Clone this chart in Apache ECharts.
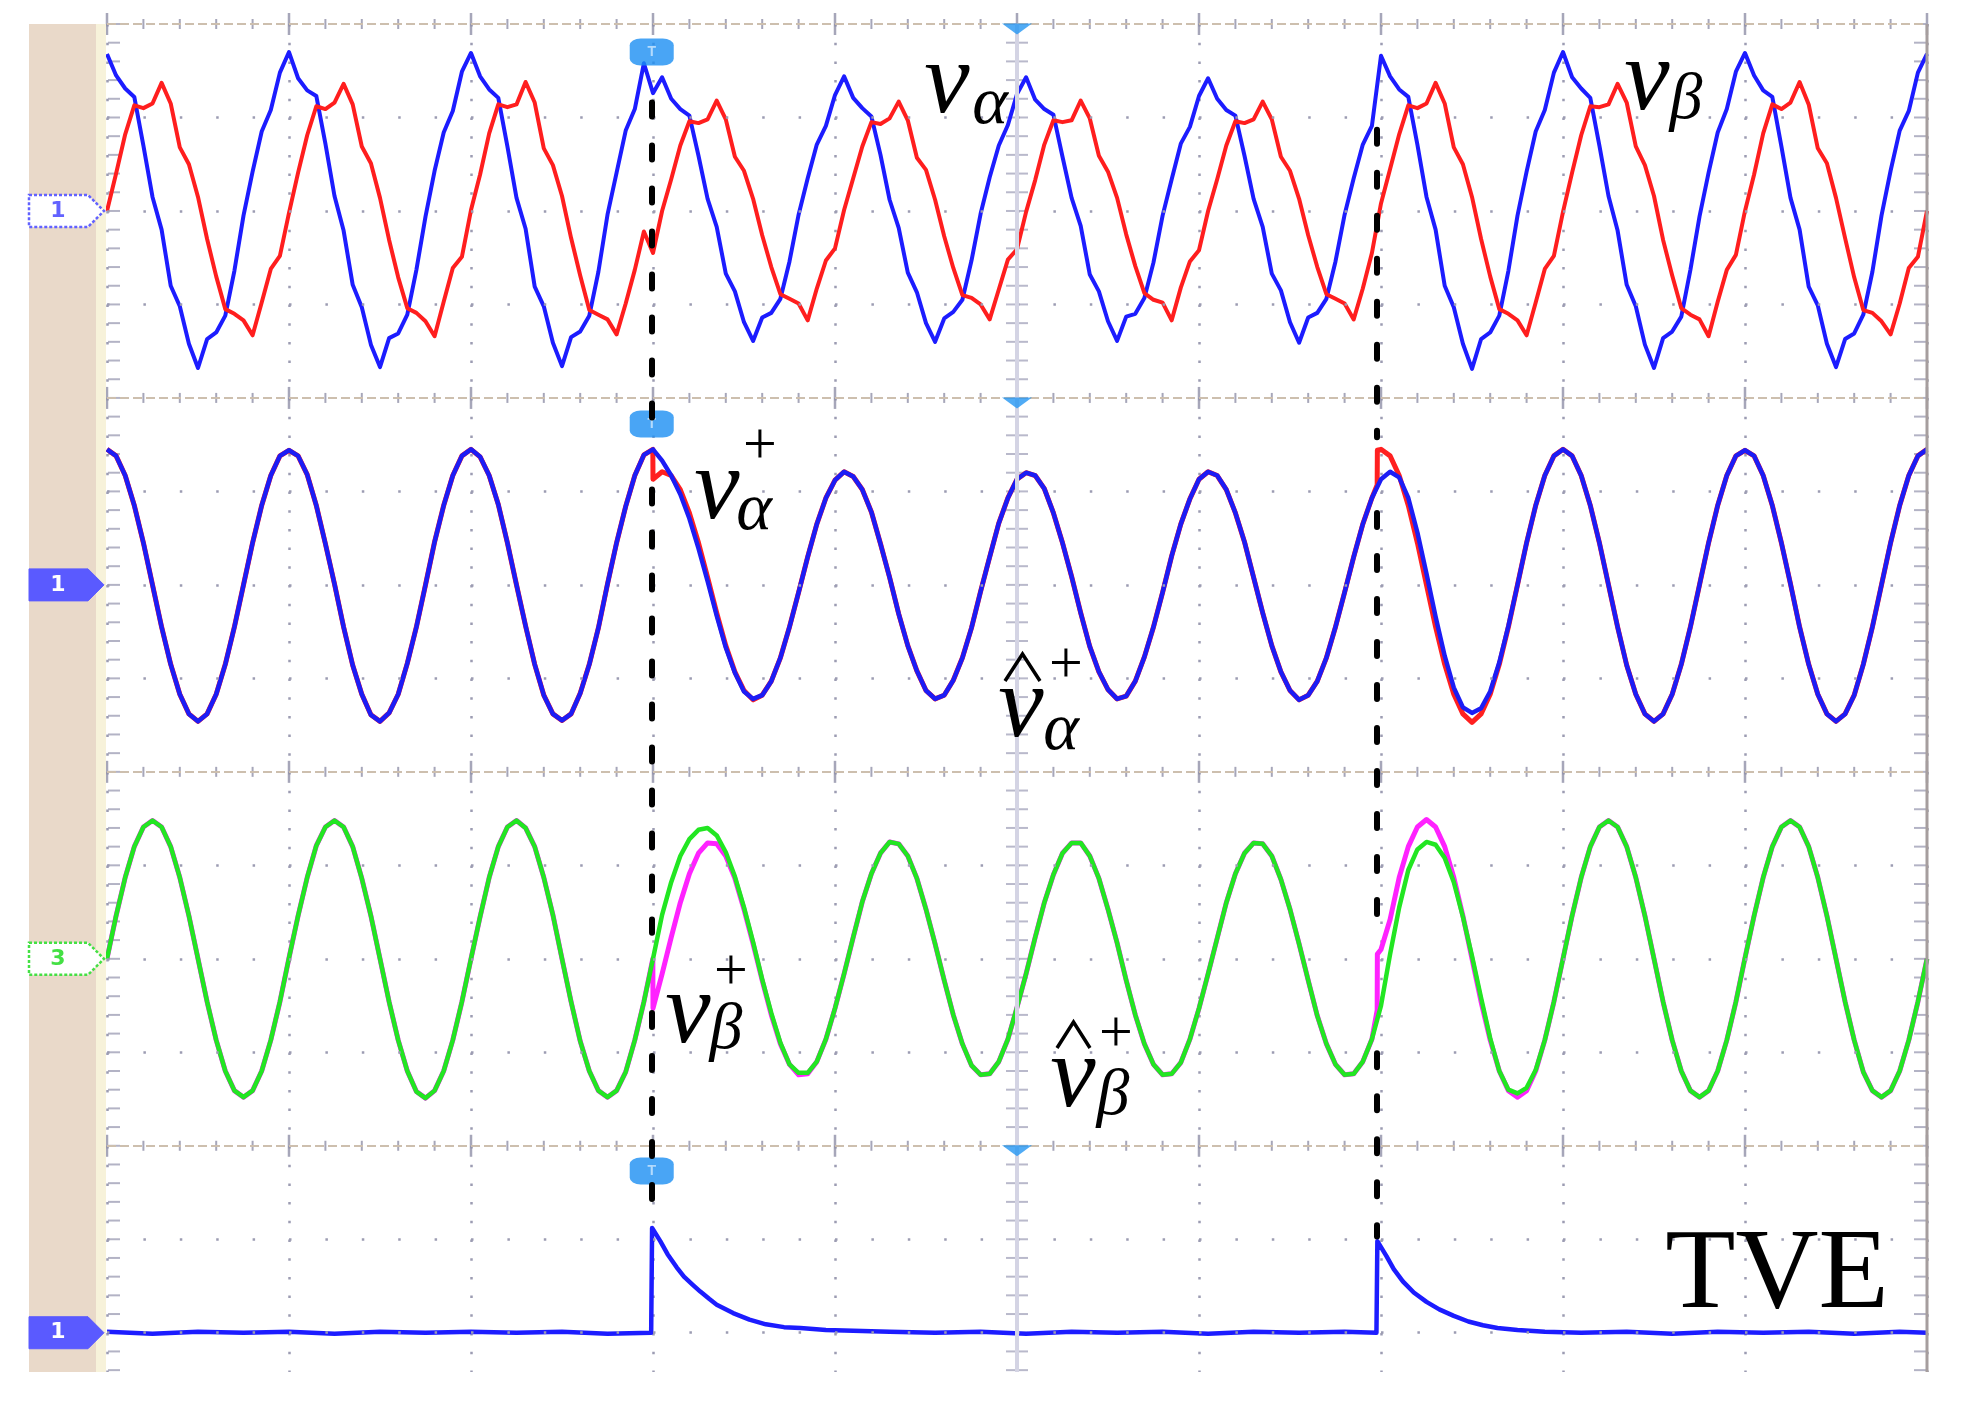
<!DOCTYPE html>
<html>
<head>
<meta charset="utf-8">
<script src="https://cdn.jsdelivr.net/npm/echarts@6/dist/echarts.min.js"></script>
<style>
html,body{margin:0;padding:0;background:#ffffff;}
#chart{width:1962px;height:1406px;}
</style>
</head>
<body>
<div id="chart"></div>
<script>
// ===== DATA (time in screen divisions, step 0.05 div; values in divisions about each channel zero) =====
const timeStep = 0.05;

// channel 1 (top): v_alpha (blue) and v_beta (red)
const vAlpha = [
1.68,1.45,1.31,1.22,0.70,0.15,-0.20,-0.80,-1.02,-1.42,-1.68,-1.37,-1.30,-1.12,-0.64,-0.05,0.42,0.85,1.08,1.48,
1.70,1.42,1.29,1.23,0.72,0.16,-0.21,-0.79,-1.03,-1.43,-1.67,-1.36,-1.31,-1.11,-0.63,-0.06,0.43,0.84,1.07,1.49,
1.69,1.44,1.30,1.21,0.69,0.14,-0.19,-0.81,-1.02,-1.41,-1.66,-1.35,-1.29,-1.12,-0.65,-0.04,0.41,0.86,1.09,1.58,
1.26,1.43,1.20,1.09,1.02,0.59,0.13,-0.17,-0.67,-0.86,-1.19,-1.39,-1.14,-1.09,-0.94,-0.54,-0.04,0.35,0.71,0.91,
1.24,1.44,1.21,1.10,1.01,0.60,0.12,-0.18,-0.66,-0.87,-1.20,-1.40,-1.15,-1.08,-0.95,-0.53,-0.03,0.36,0.70,0.92,
1.25,1.43,1.19,1.09,1.03,0.58,0.14,-0.16,-0.68,-0.86,-1.18,-1.39,-1.13,-1.10,-0.93,-0.55,-0.05,0.34,0.72,0.90,
1.23,1.42,1.20,1.08,1.02,0.59,0.13,-0.17,-0.67,-0.85,-1.19,-1.41,-1.14,-1.09,-0.94,-0.54,-0.04,0.35,0.71,0.91,
1.66,1.44,1.30,1.22,0.71,0.15,-0.20,-0.80,-1.03,-1.42,-1.69,-1.37,-1.30,-1.12,-0.64,-0.05,0.42,0.85,1.08,1.48,
1.70,1.43,1.31,1.21,0.70,0.16,-0.21,-0.79,-1.02,-1.43,-1.68,-1.36,-1.29,-1.13,-0.63,-0.06,0.41,0.84,1.09,1.49,
1.69,1.45,1.29,1.22,0.69,0.14,-0.20,-0.81,-1.01,-1.42,-1.67,-1.37,-1.31,-1.11,-0.65,-0.05,0.43,0.86,1.07,1.48,
1.68];
const vBeta = [
0.00,0.40,0.82,1.13,1.10,1.15,1.37,1.15,0.68,0.50,0.15,-0.30,-0.70,-1.05,-1.10,-1.17,-1.33,-0.98,-0.62,-0.48,
-0.02,0.41,0.81,1.12,1.09,1.16,1.36,1.14,0.69,0.51,0.14,-0.31,-0.71,-1.04,-1.09,-1.18,-1.34,-0.97,-0.61,-0.49,
0.01,0.39,0.83,1.14,1.11,1.14,1.38,1.16,0.67,0.49,0.16,-0.29,-0.69,-1.06,-1.11,-1.16,-1.32,-0.99,-0.63,-0.22,
-0.45,0.00,0.34,0.70,0.96,0.94,0.98,1.18,0.98,0.58,0.43,0.13,-0.26,-0.60,-0.89,-0.94,-0.99,-1.17,-0.83,-0.53,
-0.40,0.01,0.35,0.69,0.95,0.93,0.99,1.17,0.97,0.57,0.44,0.12,-0.27,-0.61,-0.90,-0.93,-1.00,-1.16,-0.84,-0.52,
-0.41,-0.01,0.33,0.71,0.97,0.95,0.97,1.18,0.99,0.59,0.42,0.14,-0.25,-0.59,-0.88,-0.95,-0.98,-1.17,-0.82,-0.54,
-0.42,0.00,0.34,0.70,0.96,0.94,0.98,1.17,0.98,0.58,0.43,0.13,-0.26,-0.60,-0.89,-0.94,-0.99,-1.16,-0.83,-0.45,
0.08,0.45,0.82,1.13,1.10,1.15,1.37,1.15,0.68,0.50,0.15,-0.30,-0.70,-1.05,-1.10,-1.17,-1.33,-0.98,-0.62,-0.48,
-0.01,0.41,0.81,1.12,1.11,1.14,1.36,1.16,0.69,0.49,0.16,-0.31,-0.69,-1.04,-1.11,-1.16,-1.34,-0.97,-0.63,-0.47,
0.00,0.39,0.83,1.14,1.09,1.16,1.38,1.14,0.67,0.51,0.14,-0.29,-0.71,-1.06,-1.09,-1.18,-1.32,-0.99,-0.61,-0.49,
0.00];

// channel 2: v_alpha^+ (red, actual) and its estimate (blue)
const vAlphaPos = [
1.45,1.38,1.17,0.85,0.45,0.00,-0.45,-0.85,-1.17,-1.38,-1.46,-1.38,-1.17,-0.85,-0.45,0.00,0.45,0.85,1.17,1.38,
1.44,1.38,1.18,0.85,0.44,0.01,-0.45,-0.86,-1.17,-1.39,-1.46,-1.37,-1.17,-0.84,-0.45,0.00,0.46,0.85,1.17,1.38,
1.45,1.37,1.17,0.86,0.45,0.00,-0.44,-0.85,-1.18,-1.38,-1.45,-1.38,-1.16,-0.85,-0.46,0.01,0.45,0.84,1.17,1.39,
1.13,1.21,1.17,1.02,0.77,0.45,0.08,-0.30,-0.65,-0.93,-1.13,-1.23,-1.18,-1.03,-0.78,-0.45,-0.08,0.30,0.65,0.93,
1.12,1.21,1.16,1.02,0.78,0.44,0.08,-0.31,-0.65,-0.92,-1.13,-1.22,-1.18,-1.02,-0.78,-0.46,-0.07,0.30,0.66,0.93,
1.13,1.20,1.17,1.03,0.77,0.45,0.09,-0.30,-0.66,-0.93,-1.12,-1.22,-1.19,-1.03,-0.77,-0.45,-0.08,0.31,0.65,0.92,
1.13,1.21,1.17,1.02,0.77,0.46,0.08,-0.30,-0.65,-0.93,-1.13,-1.23,-1.18,-1.03,-0.78,-0.45,-0.08,0.30,0.65,0.93,
1.45,1.38,1.17,0.85,0.45,0.00,-0.45,-0.85,-1.17,-1.38,-1.47,-1.38,-1.17,-0.85,-0.45,0.00,0.45,0.85,1.17,1.38,
1.45,1.38,1.17,0.85,0.45,0.00,-0.45,-0.86,-1.17,-1.38,-1.46,-1.38,-1.17,-0.85,-0.45,0.00,0.45,0.85,1.17,1.38,
1.44,1.38,1.17,0.85,0.45,0.01,-0.45,-0.85,-1.17,-1.38,-1.46,-1.38,-1.18,-0.85,-0.45,0.00,0.45,0.85,1.17,1.38,
1.45];
const vAlphaPosJumps = [[2.999,1.45],[6.979,1.07],[6.98,1.44]];
const vAlphaPosHat = [
1.45,1.38,1.17,0.85,0.45,0.00,-0.45,-0.85,-1.17,-1.38,-1.46,-1.38,-1.17,-0.85,-0.45,0.00,0.45,0.85,1.17,1.38,
1.44,1.38,1.18,0.85,0.44,0.01,-0.45,-0.86,-1.17,-1.39,-1.46,-1.37,-1.17,-0.84,-0.45,0.00,0.46,0.85,1.17,1.38,
1.45,1.37,1.17,0.86,0.45,0.00,-0.44,-0.85,-1.18,-1.38,-1.45,-1.38,-1.16,-0.85,-0.46,0.01,0.45,0.84,1.17,1.39,
1.45,1.33,1.17,0.97,0.71,0.39,0.04,-0.33,-0.67,-0.94,-1.14,-1.22,-1.18,-1.03,-0.78,-0.45,-0.08,0.30,0.65,0.93,
1.12,1.21,1.16,1.02,0.78,0.44,0.08,-0.31,-0.65,-0.92,-1.13,-1.22,-1.18,-1.02,-0.78,-0.46,-0.07,0.30,0.66,0.93,
1.13,1.20,1.17,1.03,0.77,0.45,0.09,-0.30,-0.66,-0.93,-1.12,-1.22,-1.19,-1.03,-0.77,-0.45,-0.08,0.31,0.65,0.92,
1.13,1.21,1.17,1.02,0.77,0.46,0.08,-0.30,-0.65,-0.93,-1.13,-1.23,-1.18,-1.03,-0.78,-0.45,-0.08,0.30,0.65,0.93,
1.13,1.21,1.15,0.93,0.56,0.12,-0.34,-0.76,-1.10,-1.31,-1.37,-1.32,-1.14,-0.83,-0.44,0.00,0.45,0.85,1.17,1.38,
1.45,1.38,1.17,0.85,0.45,0.00,-0.45,-0.86,-1.17,-1.38,-1.46,-1.38,-1.17,-0.85,-0.45,0.00,0.45,0.85,1.17,1.38,
1.44,1.38,1.17,0.85,0.45,0.01,-0.45,-0.85,-1.17,-1.38,-1.46,-1.38,-1.18,-0.85,-0.45,0.00,0.45,0.85,1.17,1.38,
1.45];

// channel 3: v_beta^+ (magenta, actual) and its estimate (green)
const vBetaPos = [
0.00,0.46,0.87,1.20,1.41,1.48,1.41,1.20,0.87,0.46,0.00,-0.46,-0.87,-1.20,-1.41,-1.48,-1.41,-1.20,-0.87,-0.46,
0.01,0.46,0.87,1.21,1.41,1.48,1.41,1.20,0.86,0.46,0.00,-0.46,-0.87,-1.20,-1.42,-1.49,-1.41,-1.20,-0.87,-0.46,
0.00,0.45,0.87,1.20,1.41,1.48,1.40,1.20,0.87,0.47,0.00,-0.46,-0.88,-1.20,-1.41,-1.48,-1.41,-1.21,-0.87,-0.46,
-0.53,-0.16,0.23,0.60,0.91,1.13,1.24,1.23,1.10,0.86,0.53,0.16,-0.23,-0.60,-0.91,-1.13,-1.24,-1.23,-1.10,-0.86,
-0.53,-0.16,0.23,0.61,0.91,1.13,1.25,1.23,1.10,0.86,0.53,0.16,-0.23,-0.60,-0.91,-1.14,-1.24,-1.23,-1.10,-0.86,
-0.52,-0.16,0.23,0.60,0.90,1.13,1.24,1.24,1.10,0.86,0.53,0.17,-0.23,-0.60,-0.91,-1.13,-1.24,-1.23,-1.11,-0.86,
-0.53,-0.16,0.22,0.60,0.91,1.13,1.24,1.23,1.10,0.85,0.53,0.16,-0.23,-0.61,-0.91,-1.13,-1.24,-1.23,-1.10,-0.86,
0.10,0.42,0.87,1.20,1.41,1.49,1.41,1.20,0.87,0.46,0.00,-0.46,-0.87,-1.20,-1.41,-1.48,-1.41,-1.20,-0.87,-0.46,
0.00,0.46,0.87,1.20,1.41,1.48,1.41,1.20,0.87,0.46,0.00,-0.46,-0.87,-1.20,-1.41,-1.48,-1.41,-1.20,-0.87,-0.46,
0.01,0.46,0.87,1.20,1.41,1.48,1.41,1.20,0.87,0.46,0.00,-0.46,-0.87,-1.21,-1.41,-1.48,-1.41,-1.20,-0.87,-0.46,
0.00];
const vBetaPosJumps = [[2.999,0.00],[6.979,-0.55],[6.98,0.05]];
const vBetaPosHat = [
0.00,0.46,0.87,1.20,1.41,1.48,1.41,1.20,0.87,0.46,0.00,-0.46,-0.87,-1.20,-1.41,-1.48,-1.41,-1.20,-0.87,-0.46,
0.01,0.46,0.87,1.21,1.41,1.48,1.41,1.20,0.86,0.46,0.00,-0.46,-0.87,-1.20,-1.42,-1.49,-1.41,-1.20,-0.87,-0.46,
0.00,0.45,0.87,1.20,1.41,1.48,1.40,1.20,0.87,0.47,0.00,-0.46,-0.88,-1.20,-1.41,-1.48,-1.41,-1.21,-0.87,-0.46,
0.00,0.47,0.82,1.10,1.28,1.38,1.40,1.32,1.14,0.88,0.55,0.18,-0.22,-0.58,-0.90,-1.13,-1.22,-1.22,-1.10,-0.86,
-0.53,-0.16,0.23,0.61,0.91,1.13,1.25,1.23,1.10,0.86,0.53,0.16,-0.23,-0.60,-0.91,-1.14,-1.24,-1.23,-1.10,-0.86,
-0.52,-0.16,0.23,0.60,0.90,1.13,1.24,1.24,1.10,0.86,0.53,0.17,-0.23,-0.60,-0.91,-1.13,-1.24,-1.23,-1.11,-0.86,
-0.53,-0.16,0.22,0.60,0.91,1.13,1.24,1.23,1.10,0.85,0.53,0.16,-0.23,-0.61,-0.91,-1.13,-1.24,-1.23,-1.10,-0.86,
-0.50,0.05,0.55,0.95,1.17,1.25,1.22,1.08,0.82,0.45,0.03,-0.42,-0.85,-1.20,-1.40,-1.44,-1.38,-1.19,-0.87,-0.46,
0.00,0.46,0.87,1.20,1.41,1.48,1.41,1.20,0.87,0.46,0.00,-0.46,-0.87,-1.20,-1.41,-1.48,-1.41,-1.20,-0.87,-0.46,
0.01,0.46,0.87,1.20,1.41,1.48,1.41,1.20,0.87,0.46,0.00,-0.46,-0.87,-1.21,-1.41,-1.48,-1.41,-1.20,-0.87,-0.46,
0.00];

// channel 4: TVE  [time (div), value (div)]
const tve = [[0,0.01],[0.25,-0.01],[0.5,0.01],[0.75,0],[1,0.01],[1.25,-0.01],[1.5,0.01],[1.75,0],[2,0.01],[2.25,0],[2.5,0.01],[2.75,-0.01],[2.99,0],
[2.995,1.12],[3.04,0.98],[3.08,0.84],[3.13,0.70],[3.17,0.60],[3.22,0.51],[3.26,0.44],[3.31,0.36],[3.35,0.30],[3.44,0.21],[3.53,0.14],[3.62,0.09],[3.72,0.06],[3.81,0.05],[3.95,0.03],[4.1,0.02],
[4.3,0.01],[4.55,0],[4.8,0.01],[5.05,-0.01],[5.3,0.01],[5.55,0],[5.8,0.01],[6.05,-0.01],[6.3,0.01],[6.55,0],[6.8,0.01],[6.975,0],
[6.98,0.98],[7.03,0.82],[7.07,0.68],[7.12,0.55],[7.18,0.43],[7.25,0.33],[7.32,0.25],[7.4,0.18],[7.48,0.12],[7.56,0.08],[7.64,0.05],[7.75,0.03],[7.9,0.01],
[8.1,0],[8.35,0.01],[8.6,-0.01],[8.85,0.01],[9.1,0],[9.35,0.01],[9.6,-0.01],[9.85,0.01],[10,0]];

// event instants (dashed markers): [time, yFrom, yTo] in screen-division units
const eventDashes = [[2.993,13.16,9.60],[2.993,9.02,4.28],[2.993,3.42,1.18],
                     [6.978,12.87,9.58],[6.978,8.77,4.31],[6.978,2.99,1.03]];
const triggerMarks = [[2.993,13.70],[2.993,9.72],[2.993,1.73]];

// ===== LAYOUT =====
const GRID = {left:107, top:24, width:1820, height:1348};
const Y_MIN = -0.42, Y_MAX = 14;
const OFF = {top:12, alpha:8, beta:4, tve:0};

const T = vAlpha.map((_, i) => +(i * timeStep).toFixed(3));
const pts = (vals, off) => vals.map((v, i) => [T[i], +(v + off).toFixed(3)]);
const withJumps = (vals, jumps, off) =>
  pts(vals, off).concat(jumps.map(([t, v]) => [t, +(v + off).toFixed(3)])).sort((a, b) => a[0] - b[0]);

// decorations (graticule)
const rowLines = [0,1,3,4,5,7,8,9,11,12,13];
const dividers = [2,6,10,14];
const divMinor = [], divMajor = [];
dividers.forEach(y => { for (let k = 0; k <= 50; k++) { (k % 5 === 0 ? divMajor : divMinor).push([+(k*0.2).toFixed(2), y]); } });
const edgeL = [], edgeR = [], edgeC = [];
for (let k = -2; k <= 70; k++) { const y = +(k*0.2).toFixed(2); edgeL.push([0, y]); edgeR.push([10, y]); edgeC.push([5, y]); }

function line(name, data, color, width, z) {
  return {type:'line', name, data, showSymbol:false, symbol:'none', silent:true,
          lineStyle:{color, width, join:'round'}, itemStyle:{color}, z, animation:false};
}
function ticks(data, size, offset, color) {
  return {type:'scatter', data, symbol:'rect', symbolSize:size, symbolOffset:offset, silent:true,
          itemStyle:{color}, z:1, animation:false};
}

const chart = echarts.init(document.getElementById('chart'), null, {renderer:'canvas'});
chart.setOption({
  animation:false,
  backgroundColor:'#ffffff',
  grid:{left:GRID.left, top:GRID.top, width:GRID.width, height:GRID.height, containLabel:false},
  xAxis:{type:'value', min:0, max:10, interval:1,
    axisLine:{show:false}, axisTick:{show:false}, axisLabel:{show:false},
    splitLine:{show:true, lineStyle:{color:'#9c9cb2', width:2.5, type:[2.5,16.2]}}},
  yAxis:{type:'value', min:Y_MIN, max:Y_MAX,
    axisLine:{show:false}, axisTick:{show:false}, axisLabel:{show:false}, splitLine:{show:false}},
  series:[
    {type:'scatter', data:[[0,0]], symbolSize:0, silent:true, z:1,
     markLine:{symbol:['none','none'], silent:true, label:{show:false}, animation:false,
       data: rowLines.map(y => ({yAxis:y, lineStyle:{type:[2.5,33.9], color:'#9c9cb2', width:2.5}}))
         .concat(dividers.map(y => ({yAxis:y, lineStyle:{type:[9,4], color:'#cdbfae', width:2}})))
         .concat([{xAxis:5, lineStyle:{type:'solid', color:'#d4d4e4', width:4}}])}},
    ticks(divMinor, [2, 10], [0, 0], '#9090a8'),
    ticks(divMajor, [2.5, 22], [0, 0], '#9090a8'),
    ticks(edgeL, [12, 2], [7, 0], '#a0a0b6'),
    ticks(edgeR, [12, 2], [-7, 0], '#a0a0b6'),
    ticks(edgeC, [22, 2], [0, 0], '#a8a8be'),
    line('v_alpha', pts(vAlpha, OFF.top), '#1c1cff', 4, 3),
    line('v_beta', pts(vBeta, OFF.top), '#ff1e1e', 4, 3),
    line('v_alpha+', withJumps(vAlphaPos, vAlphaPosJumps, OFF.alpha), '#ff2020', 5, 3),
    line('v_alpha+ est', pts(vAlphaPosHat, OFF.alpha), '#1c1cf5', 4.5, 4),
    line('v_beta+', withJumps(vBetaPos, vBetaPosJumps, OFF.beta), '#ff22ff', 5, 3),
    line('v_beta+ est', pts(vBetaPosHat, OFF.beta), '#22e622', 4.5, 4),
    line('TVE', tve.map(([t, v]) => [t, v + OFF.tve]), '#1c1cff', 4.5, 3),
    {type:'scatter', data:[[5,14],[5,10],[5,2]], symbol:'triangle', symbolRotate:180, symbolSize:[30,11],
     symbolOffset:[0,5], itemStyle:{color:'#2496f2'}, silent:true, z:6},
    {type:'scatter', data:triggerMarks, symbol:'roundRect', symbolSize:[44,27],
     itemStyle:{color:'#1b8ef2'}, silent:true, z:6,
     label:{show:true, formatter:'T', color:'#cfe9ff', fontSize:14, fontWeight:'bold'}},
    {type:'lines', coordinateSystem:'cartesian2d', silent:true, z:10,
     data: eventDashes.map(([t, a, b]) => ({coords:[[t, a],[t, b]]})),
     lineStyle:{color:'#000000', width:6, type:[14,29], cap:'round', opacity:1}}
  ]
});

// ===== overlay graphics: side strip, channel markers, labels =====
const py = y => chart.convertToPixel({xAxisIndex:0, yAxisIndex:0}, [0, y])[1];
function chMarker(cy, filled, color, label) {
  const pts5 = [[29, cy-16],[88, cy-16],[104, cy],[88, cy+16],[29, cy+16]];
  return [
    {type:'polygon', shape:{points:pts5}, z:50,
     style: filled ? {fill:color, stroke:color, lineWidth:1}
                   : {fill:'#ffffff', stroke:color, lineWidth:2.5, lineDash:[3,2]}},
    {type:'text', x:58, y:cy, z:51, style:{text:label, font:'bold 22px "DejaVu Sans"',
      fill: filled ? '#ffffff' : color, textAlign:'center', textVerticalAlign:'middle', align:'center', verticalAlign:'middle'}}
  ];
}
function glyph(cx, cy, s, size, italic) {
  const f = (italic ? 'italic ' : '') + size + 'px "Liberation Serif"';
  return {type:'text', x:cx, y:cy, z:60, style:{text:s, font:f, fill:'#000000',
    textAlign:'center', textVerticalAlign:'middle', align:'center', verticalAlign:'middle'}};
}
function hat(x1, yb, x2, yt) {
  return {type:'polyline', z:60, shape:{points:[[x1, yb],[(x1+x2)/2, yt],[x2, yb]]},
    style:{stroke:'#000000', lineWidth:3.5, fill:null}};
}
const gTop = GRID.top, gH = GRID.height;
const graphics = [
  {type:'rect', shape:{x:29, y:gTop, width:67, height:gH}, style:{fill:'#e9d9c9'}, z:40},
  {type:'rect', shape:{x:96, y:gTop, width:10, height:gH}, style:{fill:'#f7f2da'}, z:40},
  {type:'line', shape:{x1:1927, y1:gTop, x2:1927, y2:gTop+gH}, style:{stroke:'#a69e9e', lineWidth:3}, z:40},
  ...chMarker(py(OFF.top), false, '#6262ff', '1'),
  ...chMarker(py(OFF.alpha), true, '#5a5aff', '1'),
  ...chMarker(py(OFF.beta), false, '#44e044', '3'),
  ...chMarker(py(OFF.tve), true, '#5a5aff', '1'),
  // v_alpha
  glyph(947, 85, 'v', 102, true), glyph(990, 105, 'α', 68, true),
  // v_beta
  glyph(1647, 82, 'v', 102, true), glyph(1686, 101, 'β', 66, true),
  // v_alpha^+
  glyph(717, 491, 'v', 102, true), glyph(754, 511, 'α', 68, true), glyph(760, 447, '+', 60, false),
  // hat v_alpha^+
  hat(1005, 681, 1040, 654),
  glyph(1021, 709, 'v', 102, true), glyph(1061, 731, 'α', 68, true), glyph(1066, 666, '+', 60, false),
  // v_beta^+
  glyph(688, 1015, 'v', 102, true), glyph(726, 1031, 'β', 66, true), glyph(731, 973, '+', 60, false),
  // hat v_beta^+
  hat(1057, 1048, 1090, 1022),
  glyph(1073, 1079, 'v', 102, true), glyph(1113, 1097, 'β', 66, true), glyph(1116, 1035, '+', 60, false),
  // TVE
  glyph(1777, 1277, 'TVE', 115, false)
];
chart.setOption({graphic:{elements:graphics}});
</script>
</body>
</html>
